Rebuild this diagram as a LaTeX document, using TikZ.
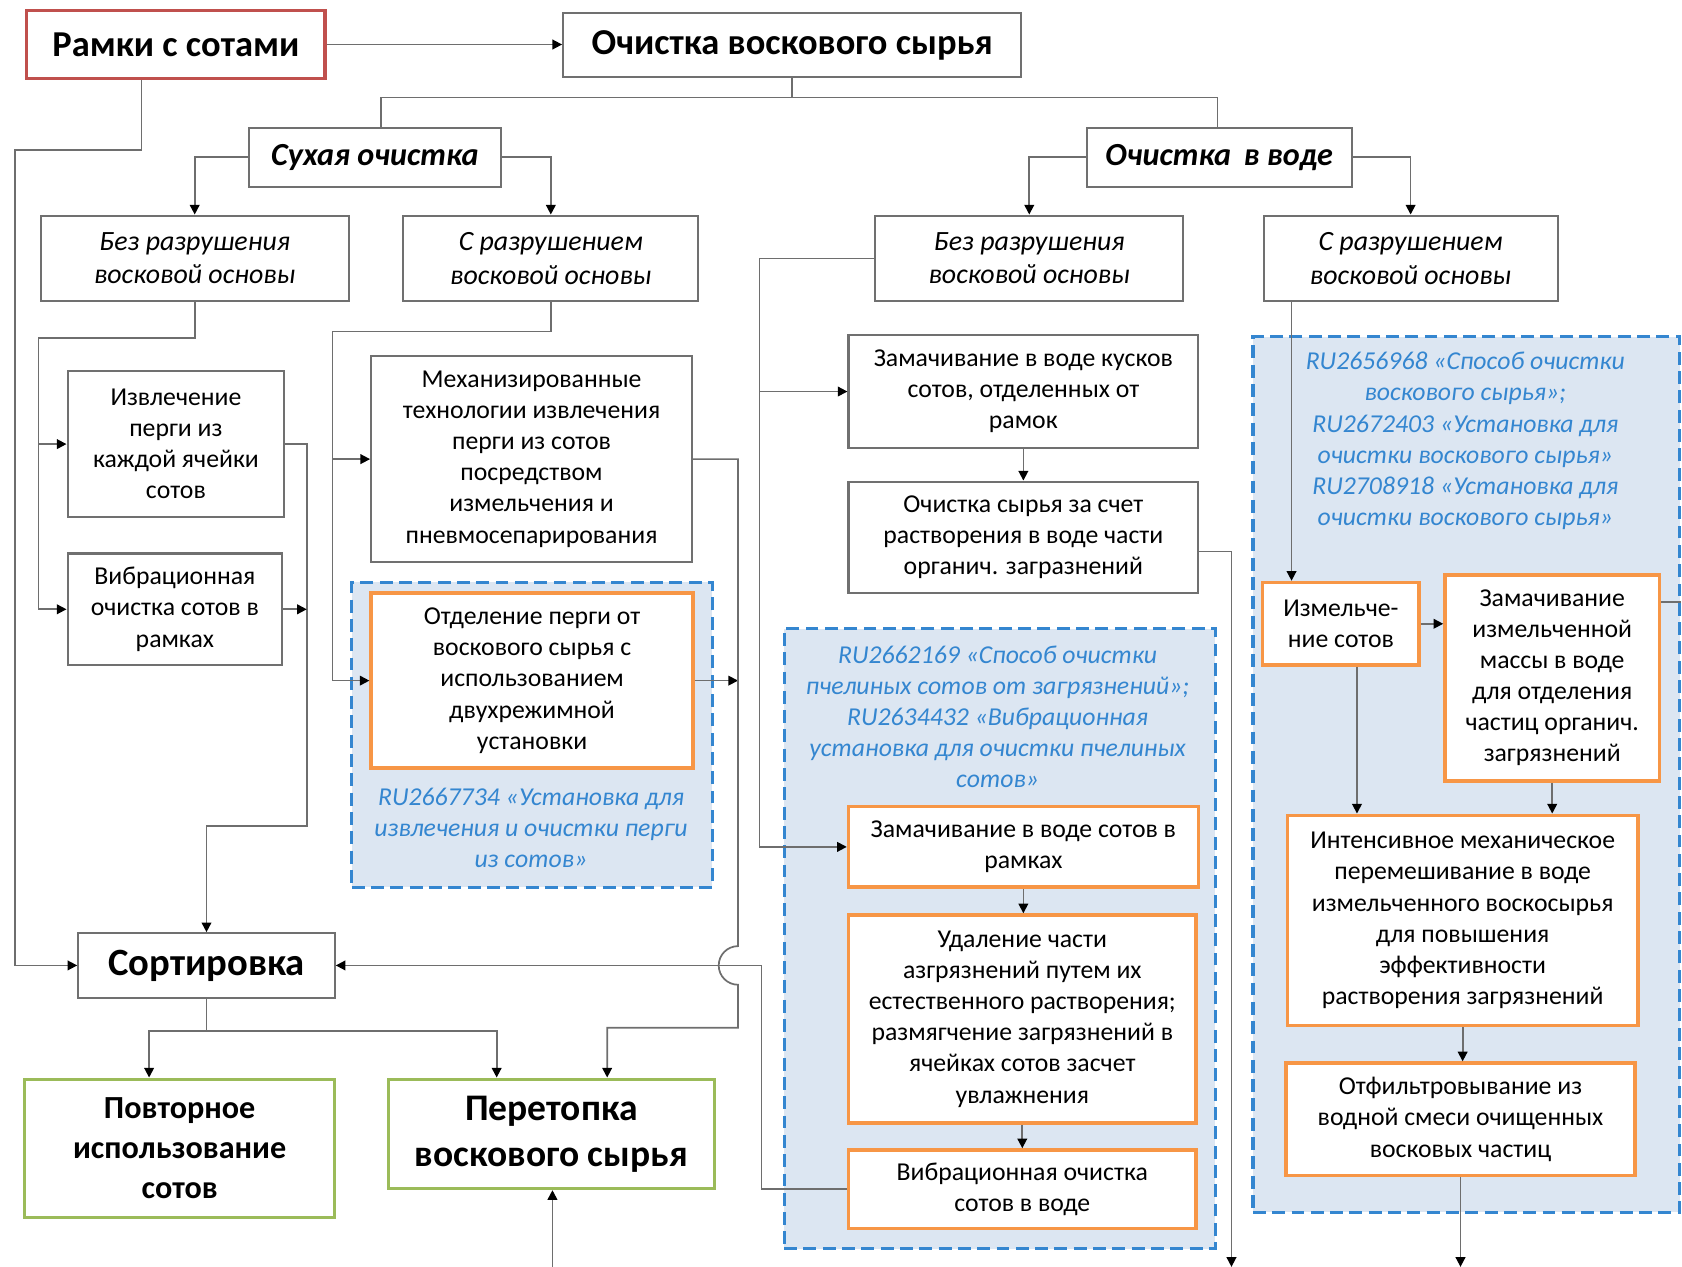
\documentclass[tikz,border=0pt]{standalone}
\usepackage{fontspec}
\setmainfont{Carlito}
\usetikzlibrary{arrows.meta}
\definecolor{edgegray}{RGB}{112,112,112}
\definecolor{wiregray}{RGB}{110,110,110}
\definecolor{framered}{RGB}{192,80,77}
\definecolor{leafgreen}{RGB}{155,187,89}
\definecolor{oporange}{RGB}{247,150,70}
\definecolor{patblue}{RGB}{52,134,208}
\definecolor{patfill}{RGB}{220,230,242}

\begin{document}
\begin{tikzpicture}[x=.5pt, y=-.5pt,
        corners/.style args={#1/#2/#3/#4}{at={({(#1+#3)/2},{(#2+#4)/2})},
          minimum width={(#3-#1)*.5pt}, minimum height={(#4-#2)*.5pt}},
        wire/.style={draw=wiregray, line width=.8pt},
        arr/.style={wire, -{Triangle[length=4.5pt, width=4.5pt, color=black]}},
        box/.style={draw=edgegray, line width=1pt, fill=white, inner sep=0pt, align=center,
          font=\fontsize{12}{14.5}\selectfont},
        titlebox/.style={box, font=\bfseries\fontsize{17}{20}\selectfont},
        branchbox/.style={box, font=\bfseries\itshape\fontsize{15}{18}\selectfont},
        modebox/.style={box, font=\itshape\fontsize{13}{15.5}\selectfont},
        opbox/.style={box, draw=oporange, line width=1.6pt},
        endbox/.style={box, draw=leafgreen, line width=1.5pt, font=\bfseries\fontsize{15}{18.8}\selectfont},
        patgroup/.style={draw=patblue, fill=patfill, line width=1.5pt, dash pattern=on 6pt off 3pt, inner sep=0pt},
        patent/.style={text=patblue, align=center, font=\itshape\fontsize{12}{14.5}\selectfont}]
        \useasboundingbox (0,0) rectangle (1568,1181);

        \node[patgroup, corners=328/543/664/827] (grpA) {};
        \node[patgroup, corners=731/586/1133/1164] (grpB) {};
        \node[patgroup, corners=1168/314/1566/1130] (grpC) {};
        \node[patent] (patA) at (495,772) {RU2667734 «Установка для\\извлечения и очистки перги\\из сотов»};
        \node[patent] (patB) at (930,668) {RU2662169 «Способ очистки\\пчелиных сотов от загрязнений»;\\RU2634432 «Вибрационная\\установка для очистки пчелиных\\сотов»};
        \node[patent] (patC) at (1366,411) {RU2656968 «Способ очистки\\воскового сырья»;\\RU2672403 «Установка для\\очистки воскового сырья»\\RU2708918 «Установка для\\очистки воскового сырья»};

        \node[titlebox, draw=framered, line width=1.5pt, corners=25/10/303/73] (ramki) {Рамки с сотами};
        \node[titlebox, corners=525/12/952/72] (clean) {Очистка воскового сырья};
        \node[branchbox, corners=232/119/467/174] (dry) {Сухая очистка};
        \node[branchbox, corners=1013/119/1260/174] (wet) {Очистка\, в воде};
        \node[modebox, corners=38/201/325/281] (dryno) {Без разрушения\\восковой основы};
        \node[modebox, corners=376/201/651/281] (drycut) {С разрушением\\восковой основы};
        \node[modebox, corners=816/201/1103/281] (wetno) {Без разрушения\\восковой основы};
        \node[modebox, corners=1178/201/1452/281] (wetcut) {С разрушением\\восковой основы};

        \node[box, corners=63/346/265/482] (extract) {Извлечение\\перги из\\каждой ячейки\\сотов};
        \node[box, corners=63/516/263/620] (vibr) {Вибрационная\\очистка сотов в\\рамках};
        \node[box, corners=346/332/645/524] (mech) {Механизированные\\технологии извлечения\\перги из сотов\\посредством\\измельчения и\\пневмосепарирования};
        \node[opbox, corners=346/553/646/716] (separ) {Отделение перги от\\воскового сырья с\\использованием\\двухрежимной\\установки};

        \node[titlebox, font=\bfseries\fontsize{18}{21}\selectfont, corners=73/870/312/930] (sort) {Сортировка};
        \node[endbox, corners=23/1006/312/1135] (reuse) {Повторное\\использование\\сотов};
        \node[endbox, font=\bfseries\fontsize{17.5}{21.5}\selectfont, corners=362/1006/666/1108] (melt) {Перетопка\\воскового сырья};

        \node[box, corners=791/312/1117/418] (soakA) {Замачивание в воде кусков\\сотов, отделенных от\\рамок};
        \node[box, corners=791/449/1117/553] (dissolve) {Очистка сырья за счет\\растворения в воде части\\органич. загразнений};
        \node[opbox, corners=791/752/1117/827] (soakB) {Замачивание в воде сотов в\\рамках};
        \node[opbox, corners=791/853/1115/1047] (remove) {Удаление части\\азгрязнений путем их\\естественного растворения;\\размягчение загрязнений в\\ячейках сотов засчет\\увлажнения};
        \node[opbox, corners=791/1072/1115/1145] (vibrw) {Вибрационная очистка\\сотов в воде};

        \node[opbox, corners=1177/543/1323/620] (crush) {Измельче-\\ние сотов};
        \node[opbox, corners=1347/536/1547/728] (soakC) {Замачивание\\измельченной\\массы в воде\\для отделения\\частиц органич.\\загрязнений};
        \node[opbox, corners=1200/760/1527/956] (mix) {Интенсивное механическое\\перемешивание в воде\\измельченного воскосырья\\для повышения\\эффективности\\растворения загрязнений};
        \node[opbox, corners=1199/991/1524/1096] (filt) {Отфильтровывание из\\водной смеси очищенных\\восковых частиц};

        \coordinate (meltin) at (515,1181);
        \coordinate (outB) at (1148,1181);
        \coordinate (outC) at (1362,1181);

        \draw[arr] (ramki.east) -- (ramki.east -| clean.west);
        \draw[wire] (clean.south) -- ++(0,18) coordinate (cleansplit);
        \draw[wire] (355,0 |- dry.north) |- (cleansplit) -| (1135,0 |- wet.north);
        \draw[arr] (dry.west) -| (dryno.north);
        \draw[arr] (dry.east) -| (drycut.north);
        \draw[arr] (wet.west) -| (wetno.north);
        \draw[arr] (wet.east) -| (wetcut.north);

        \draw[arr] (132,0 |- ramki.south) |- (14,140) |- (sort.west);
        \draw[arr] (dryno.south) |- (36,315) |- (vibr.west);
        \draw[arr] (36,0 |- extract.west) -- (extract.west);
        \draw[arr] (extract.east) -| (286,770) -| (sort.north);
        \draw[arr] (vibr.east) -- (286,0 |- vibr.east);
        \draw[arr] (drycut.south) |- (310,309) |- (separ.west);
        \draw[arr] (310,0 |- mech.west) -- (mech.west);
        \draw[arr] (separ.east) -- (688,0 |- separ.east);
        \draw[arr] (mech.east) -| (688,882) arc[start angle=90, end angle=270, radius=9pt] -- (688,958) -| (566,0 |- melt.north);
        \draw[arr] (vibrw.west) -| (710,0 |- sort.east) -- (sort.east);
        \draw[wire] (sort.south) -- ++(0,30) coordinate (sortsplit);
        \draw[arr] (sortsplit) -| (139,0 |- reuse.north);
        \draw[arr] (sortsplit) -| (463,0 |- melt.north);
        \draw[arr] (meltin) -- (meltin |- melt.south);

        \draw[arr] (wetno.west) -| (708,0 |- soakB.west) -- (soakB.west);
        \draw[arr] (708,0 |- soakA.west) -- (soakA.west);
        \draw[arr] (dissolve.east |- 0,514) -| (outB);
        \foreach \from/\to in {soakA/dissolve, soakB/remove, remove/vibrw, soakC/mix, mix/filt}
          \draw[arr] (\from.south) -- (\from.south |- \to.north);

        \draw[arr] (1204,0 |- wetcut.south) -- (1204,0 |- crush.north);
        \draw[arr] (crush.east) -- (crush.east -| soakC.west);
        \draw[wire] (soakC.east |- 0,561) -- (grpC.east |- 0,561);
        \draw[arr] (1265,0 |- crush.south) -- (1265,0 |- mix.north);
        \draw[arr] (filt.south) -- (filt.south |- outC);
      \end{tikzpicture}
\end{document}
